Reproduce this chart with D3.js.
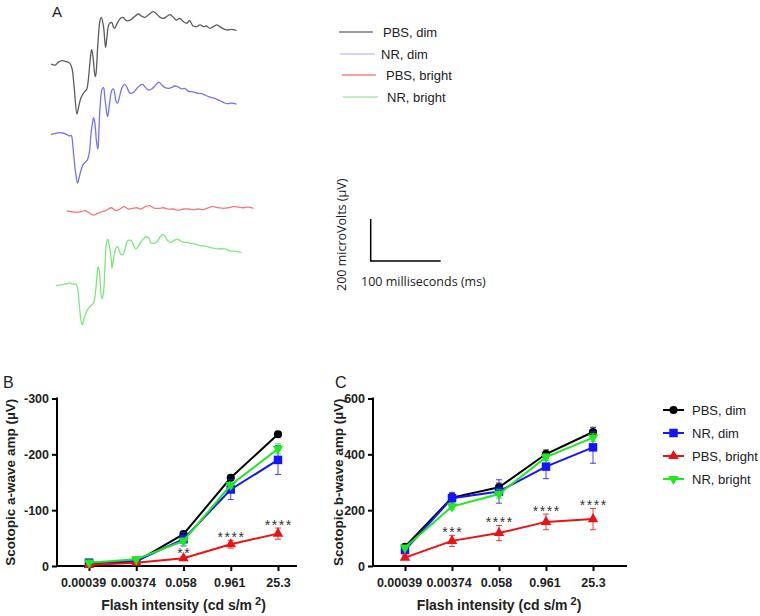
<!DOCTYPE html>
<html><head><meta charset="utf-8">
<script src="https://cdn.jsdelivr.net/npm/d3@7"></script>
<style>body{margin:0;background:#fff} svg{display:block}</style>
</head><body>
<svg id="c" width="760" height="616"></svg>
<script>
// ---------- DATA ----------
// Panel A: ERG traces, [time (ms), amplitude (µV)] relative to trace start
const tracePBSdim = [[0,0],[6,-5],[11,10],[16,16],[22,11],[27,3],[30,-21],[33,-108],[37,-238],[39,-211],[43,-159],[48,-132],[51,-121],[53,-84],[56,19],[58,70],[60,35],[63,-60],[64,-52],[67,98],[70,206],[72,222],[75,178],[78,79],[80,130],[83,190],[87,197],[89,178],[91,170],[94,190],[99,217],[103,222],[108,206],[113,209],[118,222],[125,238],[129,229],[134,222],[139,233],[146,249],[151,238],[156,222],[160,217],[165,225],[170,235],[175,222],[179,209],[184,217],[189,202],[194,194],[198,206],[203,181],[208,178],[213,186],[218,178],[222,181],[227,170],[232,178],[237,186],[241,178],[248,165],[253,162],[258,165],[265,159]];
const traceNRdim = [[0,0],[6,3],[11,8],[18,5],[22,0],[26,-8],[29,-6],[30,-16],[32,-83],[35,-178],[38,-233],[40,-209],[43,-170],[46,-143],[50,-130],[52,-122],[55,-83],[57,-3],[60,68],[61,79],[63,44],[65,-35],[67,-70],[68,-19],[70,124],[73,216],[75,222],[77,171],[80,95],[81,84],[84,156],[87,211],[89,216],[91,195],[93,156],[95,148],[99,195],[102,227],[105,238],[108,227],[113,195],[118,200],[122,216],[127,232],[131,238],[134,227],[139,211],[144,216],[149,232],[154,248],[158,235],[163,222],[168,219],[172,222],[177,230],[182,225],[187,216],[191,219],[196,206],[201,203],[206,200],[210,195],[215,194],[220,187],[225,179],[229,175],[234,171],[239,163],[244,156],[248,149],[253,146],[258,148],[265,144]];
const tracePBSbright = [[0,0],[7,-5],[14,-8],[20,-5],[26,0],[31,-8],[38,-21],[44,-13],[50,-5],[57,3],[64,14],[70,0],[76,8],[82,19],[88,8],[94,11],[100,14],[106,8],[112,19],[118,24],[124,14],[131,11],[138,14],[145,8],[152,8],[159,3],[167,8],[174,8],[181,5],[188,8],[195,5],[202,14],[209,19],[217,14],[224,11],[231,14],[238,19],[245,17],[252,14],[259,17],[267,11]];
const traceNRbright = [[0,0],[6,3],[11,6],[16,10],[20,13],[24,6],[27,10],[30,0],[32,-44],[34,-116],[36,-171],[38,-187],[40,-156],[44,-121],[48,-100],[51,-92],[54,-79],[57,-13],[59,67],[60,90],[62,67],[64,-29],[66,-63],[68,-29],[70,98],[72,202],[74,222],[76,194],[79,122],[80,83],[83,146],[86,181],[88,186],[90,170],[93,149],[96,149],[99,178],[102,213],[106,217],[109,209],[111,190],[114,175],[118,190],[121,206],[125,225],[129,233],[133,225],[135,206],[139,202],[143,206],[146,217],[149,233],[153,244],[157,229],[160,213],[164,206],[169,216],[173,222],[178,213],[183,206],[188,206],[192,202],[197,200],[202,194],[207,190],[211,190],[216,186],[221,181],[226,178],[230,175],[235,176],[240,175],[245,171],[249,165],[254,165],[259,162],[265,159]];
const scaleBarMs = 100, scaleBarUV = 200;

// Panels B & C
const categories = ["0.00039", "0.00374", "0.058", "0.961", "25.3"];
const seriesNames = ["PBS, dim", "NR, dim", "PBS, bright", "NR, bright"];
// Scotopic a-wave (µV)
const aPBSdim    = [-5, -8, -57, -158, -236];
const aPBSdimErr = [2, 2, 5, 4, 5];
const aNRdim     = [-6, -9, -48, -137, -190];
const aNRdimErr  = [2, 2, 12, 18, 26];
const aPBSbright    = [-2, -6, -14, -39, -58];
const aPBSbrightErr = [1, 1, 3, 7, 10];
const aNRbright    = [-6, -12, -45, -145, -210];
const aNRbrightErr = [2, 2, 5, 5, 9];
const aTicks = [-300, -200, -100, 0];
const aStars = ["", "", "**", "****", "****"];
// Scotopic b-wave (µV)
const bPBSdim    = [69, 245, 282, 401, 480];
const bPBSdimErr = [5, 15, 15, 15, 17];
const bNRdim     = [57, 243, 267, 356, 425];
const bNRdimErr  = [8, 21, 42, 43, 57];
const bPBSbright    = [30, 90, 118, 158, 168];
const bPBSbrightErr = [6, 20, 27, 28, 38];
const bNRbright    = [66, 213, 258, 390, 460];
const bNRbrightErr = [5, 10, 15, 12, 15];
const bTicks = [0, 200, 400, 600];
const bStars = ["", "***", "****", "****", "****"];

// ---------- DRAW ----------
const svg = d3.select("#c");
const FONT = "'Liberation Sans', Arial, sans-serif";

// Panel A
svg.append("text").attr("x", 52).attr("y", 17).attr("font-family", FONT)
  .attr("font-size", 15).attr("fill", "#222").text("A");

const xT = d3.scaleLinear().domain([0, 100]).range([0, 70]);
const yT = d3.scaleLinear().domain([0, 200]).range([0, -42]);
const traceLine = d3.line().x(d => xT(d[0])).y(d => yT(d[1])).curve(d3.curveCatmullRom.alpha(0.5));
const traceDefs = [
  {data: tracePBSdim, color: "#5c5c5c", x0: 51, y0: 64},
  {data: traceNRdim, color: "#7272ff", x0: 51, y0: 134.3},
  {data: tracePBSbright, color: "#f27a7a", x0: 66.7, y0: 210.7},
  {data: traceNRbright, color: "#7ee67e", x0: 56, y0: 285.7}
];
traceDefs.forEach(t => {
  svg.append("path").attr("transform", `translate(${t.x0},${t.y0})`)
    .attr("d", traceLine(t.data)).attr("fill", "none")
    .attr("stroke", t.color).attr("stroke-width", 1.3);
});

// Panel A legend
const legA = [
  {color: "#3a3a3a", x1: 339, x2: 373, tx: 383, y: 32},
  {color: "#a9acea", x1: 340, x2: 375, tx: 381, y: 54},
  {color: "#e64a4a", x1: 342, x2: 376, tx: 386, y: 75},
  {color: "#86de86", x1: 343, x2: 378, tx: 387, y: 97}
];
legA.forEach((l, i) => {
  svg.append("line").attr("x1", l.x1).attr("x2", l.x2).attr("y1", l.y).attr("y2", l.y)
    .attr("stroke", l.color).attr("stroke-width", 1.2);
  svg.append("text").attr("x", l.tx).attr("y", l.y + 4.5).attr("font-family", FONT)
    .attr("font-size", 13).attr("fill", "#222").text(seriesNames[i]);
});

// Scale bar
const sb = {x: 370.7, y: 261};
svg.append("path").attr("d", `M${sb.x},${sb.y + yT(scaleBarUV)}V${sb.y}H${sb.x + xT(scaleBarMs)}`)
  .attr("fill", "none").attr("stroke", "#000").attr("stroke-width", 1.5);
svg.append("text").attr("x", 361).attr("y", 286).attr("font-family", "'Open Sans', sans-serif")
  .attr("font-size", 12.5).attr("fill", "#222").text(scaleBarMs + " milliseconds (ms)");
svg.append("text").attr("transform", "translate(346,291) rotate(-90)")
  .attr("font-family", "'Open Sans', sans-serif").attr("font-size", 12.5).attr("fill", "#222")
  .text(scaleBarUV + " microVolts (µV)");

// Panels B & C
const colors = ["#000000", "#1414ff", "#ee1111", "#1fe81f"];
const shapes = ["circle", "square", "up", "down"];
const tickLabelShift = [-6, -3.5, -3, -1.5, 0];
function marker(g, shape, color, cx, cy) {
  let type = d3.symbolCircle, size = 52, rot = 0;
  if (shape === "square") { type = d3.symbolSquare; size = 72; }
  if (shape === "up") { type = d3.symbolTriangle; size = 48; }
  if (shape === "down") { type = d3.symbolTriangle; size = 48; rot = 180; }
  g.append("path").attr("d", d3.symbol().type(type).size(size)())
    .attr("transform", `translate(${cx},${cy}) rotate(${rot})`).attr("fill", color);
}

function drawChart(cfg) {
  const g = svg.append("g");
  const x = d3.scalePoint().domain(categories).range([cfg.p0, cfg.p1]);
  const y = d3.scaleLinear().domain(cfg.domain).range([566, 398.5]);

  const yAx = g.append("g").attr("transform", `translate(${cfg.left},0)`)
    .call(d3.axisLeft(y).tickValues(cfg.ticks).tickSize(5).tickSizeOuter(0).tickPadding(3).tickFormat(d => String(d)));
  const xAx = g.append("g").attr("transform", "translate(0,566)")
    .call(d3.axisBottom(x).tickSize(5).tickSizeOuter(0).tickPadding(7));
  xAx.select(".domain").remove();
  yAx.select(".domain").remove();
  [yAx, xAx].forEach(a => {
    a.selectAll("line").attr("stroke", "#000").attr("stroke-width", 2);
    a.selectAll("text").attr("font-family", FONT).attr("font-size", 12.5)
      .attr("font-weight", "bold").attr("fill", "#222");
  });
  xAx.selectAll(".tick text").attr("dx", (d, i) => tickLabelShift[i]);
  g.append("path").attr("d", `M${cfg.left},398.5V566H${cfg.right}`)
    .attr("fill", "none").attr("stroke", "#000").attr("stroke-width", 2).attr("stroke-linecap", "square");

  // series
  cfg.series.forEach((s, si) => {
    const sg = g.append("g");
    s.values.forEach((v, i) => {
      const cx = x(categories[i]);
      const ya = y(v - s.errs[i]), yb = y(v + s.errs[i]);
      sg.append("path").attr("d", `M${cx},${ya}V${yb}M${cx - 3},${ya}H${cx + 3}M${cx - 3},${yb}H${cx + 3}`)
        .attr("stroke", colors[si]).attr("stroke-width", 1).attr("fill", "none").attr("opacity", 0.8);
    });
    sg.append("path").datum(s.values)
      .attr("d", d3.line().x((d, i) => x(categories[i])).y(d => y(d)))
      .attr("fill", "none").attr("stroke", colors[si]).attr("stroke-width", 2);
    s.values.forEach((v, i) => marker(sg, shapes[si], colors[si], x(categories[i]), y(v)));
  });

  // significance stars above PBS, bright
  const red = cfg.series[2];
  cfg.stars.forEach((st, i) => {
    if (!st) return;
    const top = Math.min(y(red.values[i] - red.errs[i]), y(red.values[i] + red.errs[i]));
    g.append("text").attr("x", x(categories[i]) + 0.75).attr("y", top + 1.5)
      .attr("text-anchor", "middle").attr("font-family", FONT).attr("font-size", 14)
      .attr("letter-spacing", "1.5px").attr("fill", "#333").text(st);
  });

  // axis titles
  const xt = g.append("text").attr("x", (cfg.p0 + cfg.p1) / 2).attr("y", 610)
    .attr("text-anchor", "middle").attr("font-family", FONT).attr("font-size", 14)
    .attr("font-weight", "bold").attr("fill", "#222");
  xt.append("tspan").text("Flash intensity (cd s/m");
  xt.append("tspan").attr("dx", 3).attr("dy", -5).attr("font-size", 11).text("2");
  xt.append("tspan").attr("dy", 5).text(")");
  g.append("text").attr("transform", `translate(${cfg.ylx},${(398.5 + 566) / 2}) rotate(-90)`)
    .attr("text-anchor", "middle").attr("font-family", FONT).attr("font-size", 13.5)
    .attr("font-weight", "bold").attr("fill", "#222").text(cfg.ylabel);
  g.append("text").attr("x", cfg.letterX).attr("y", 388).attr("font-family", FONT)
    .attr("font-size", 16).attr("fill", "#222").text(cfg.letter);
  return x;
}

drawChart({
  left: 57, right: 296, p0: 89, p1: 278, domain: [0, -300], ticks: aTicks,
  stars: aStars, ylabel: "Scotopic a-wave amp (µV)", ylx: 15, letter: "B", letterX: 3,
  series: [
    {values: aPBSdim, errs: aPBSdimErr},
    {values: aNRdim, errs: aNRdimErr},
    {values: aPBSbright, errs: aPBSbrightErr},
    {values: aNRbright, errs: aNRbrightErr}
  ]
});
drawChart({
  left: 373, right: 626, p0: 405, p1: 593, domain: [0, 600], ticks: bTicks,
  stars: bStars, ylabel: "Scotopic b-wave amp (µV)", ylx: 343, letter: "C", letterX: 335,
  series: [
    {values: bPBSdim, errs: bPBSdimErr},
    {values: bNRdim, errs: bNRdimErr},
    {values: bPBSbright, errs: bPBSbrightErr},
    {values: bNRbright, errs: bNRbrightErr}
  ]
});

// Legend for B/C
seriesNames.forEach((n, i) => {
  const cy = 410 + i * 23;
  svg.append("line").attr("x1", 663).attr("x2", 684).attr("y1", cy).attr("y2", cy)
    .attr("stroke", colors[i]).attr("stroke-width", 2);
  marker(svg, shapes[i], colors[i], 673.5, cy);
  svg.append("text").attr("x", 692).attr("y", cy + 5).attr("font-family", FONT)
    .attr("font-size", 13).attr("fill", "#222").text(n);
});
</script>
</body></html>
